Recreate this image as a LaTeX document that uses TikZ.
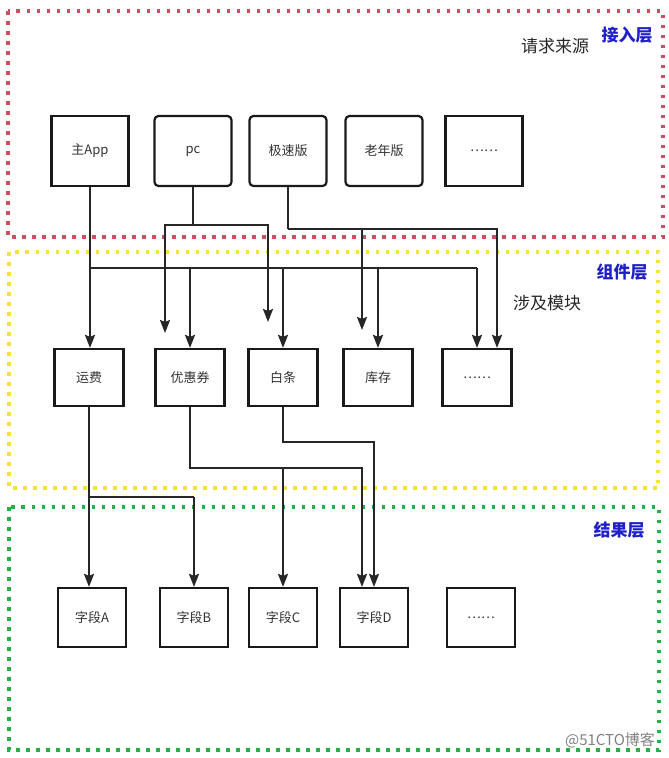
\documentclass[tikz,border=0pt]{standalone}
\usepackage{fontspec}
\setmainfont{Noto Sans CJK SC}
\usetikzlibrary{arrows.meta, calc}
\definecolor{layerred}{RGB}{206, 78, 96}
\definecolor{layeryellow}{RGB}{245, 226, 60}
\definecolor{layergreen}{RGB}{36, 178, 70}
\definecolor{layerblue}{RGB}{32, 32, 200}

\begin{document}
\begin{tikzpicture}[x=1pt, y=-1pt,
    box/.style={draw=black!90, line width=2.2pt, fill=white, inner sep=0pt, text=black!80, font=\fontsize{13}{15}\selectfont},
    topbox/.style={box, minimum width=77pt, minimum height=70pt},
    midbox/.style={box, minimum width=69pt, minimum height=57pt},
    lowbox/.style={box, minimum width=68pt, minimum height=59pt},
    link/.style={line width=2.2pt, draw=black!85},
    arr/.style={link, -{Stealth[length=13pt, width=10pt, inset=2pt]}},
    frame/.style={line width=3.5pt, dash pattern=on 3.5pt off 6.5pt},
    tag/.style={font=\fontsize{17}{20}\selectfont\bfseries, text=layerblue},
    note/.style={font=\fontsize{17}{20}\selectfont, text=black!85}]
    \useasboundingbox (0,0) rectangle (669,758);

    % 三个分层的虚线框
    \draw[frame, layerred] (8,11) rectangle (663,237);
    \draw[frame, layeryellow] (9,252) rectangle (658,488);
    \draw[frame, layergreen] (9,507) rectangle (659,750);

    \node[tag] (t1) at (627,35) {接入层};
    \node[note] (n1) at (555,46) {请求来源};
    \node[tag] (t2) at (622,272) {组件层};
    \node[note] (n2) at (547,303) {涉及模块};
    \node[tag] (t3) at (619,530) {结果层};
    \node[font=\fontsize{15}{17}\selectfont, text=gray] (mark) at (610,740) {@51CTO博客};

    % 请求来源
    \node[topbox] (app) at (90,151) {主App};
    \node[topbox, rounded corners=4pt] (pc) at (193,151) {pc};
    \node[topbox, rounded corners=4pt] (fast) at (288,151) {极速版};
    \node[topbox, rounded corners=4pt] (old) at (384,151) {老年版};
    \node[topbox] (more1) at (484,151) {……};

    % 涉及模块
    \node[midbox] (fee) at (89,377.5) {运费};
    \node[midbox] (coupon) at (190,377.5) {优惠券};
    \node[midbox] (baitiao) at (283,377.5) {白条};
    \node[midbox] (stock) at (378,377.5) {库存};
    \node[midbox] (more2) at (477,377.5) {……};

    % 结果字段
    \node[lowbox] (fa) at (92,617.5) {字段A};
    \node[lowbox] (fb) at (194,617.5) {字段B};
    \node[lowbox] (fc) at (283,617.5) {字段C};
    \node[lowbox] (fd) at (374,617.5) {字段D};
    \node[lowbox] (more3) at (481,617.5) {……};

    % 主App -> 各模块
    \coordinate (busA) at (0,268);
    \draw[arr] (app.south) -- (app.south |- fee.north);
    \draw[link] (app.south |- busA) -- (more2.north |- busA);
    \foreach \m in {coupon, baitiao, stock, more2}
        \draw[arr] (\m.north |- busA) -- (\m.north);

    % pc
    \coordinate (pcL) at (165,333);
    \coordinate (pcR) at (268,322);
    \draw[link] (pc.south) -- ++(0,38) coordinate (pcJ);
    \draw[arr] (pcJ) -| (pcL);
    \draw[arr] (pcJ) -| (pcR);

    % 极速版
    \coordinate (fastS) at (362,330);
    \draw[link] (fast.south) -- ++(0,42) coordinate (fastJ);
    \draw[arr] (fastJ) -| (fastS);
    \draw[arr] (fastJ) -| ($(more2.north)+(20,0)$);

    % 运费 -> 字段A, 字段B
    \coordinate (busC) at (0,497);
    \draw[link] (fee.south) -- (fee.south |- busC) -- (fb.north |- busC);
    \draw[arr] (fee.south |- busC) -- (fee.south |- fa.north);
    \draw[arr] (fb.north |- busC) -- (fb.north);

    % 优惠券 -> 字段C, 字段D
    \coordinate (busD) at (0,468);
    \draw[arr] (coupon.south) |- ($(fd.north |- busD)+(-12,0)$) -- ($(fd.north)+(-12,0)$);
    \draw[arr] (fc.north |- busD) -- (fc.north);

    % 白条 -> 字段D
    \coordinate (busE) at (0,442);
    \draw[arr] (baitiao.south) -- (baitiao.south |- busE) -| (fd.north);
\end{tikzpicture}
\end{document}
